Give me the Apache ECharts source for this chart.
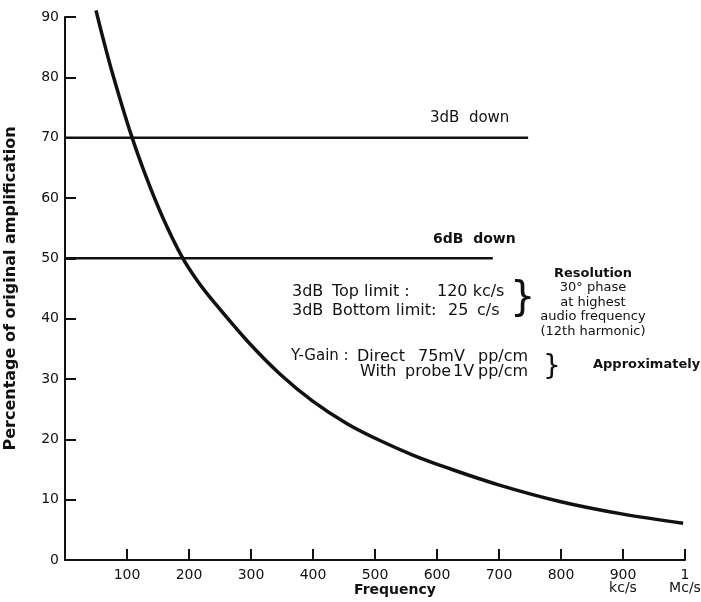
<!DOCTYPE html>
<html>
<head>
<meta charset="utf-8">
<script src="https://cdn.jsdelivr.net/npm/echarts@6/dist/echarts.min.js"></script>
<style>
  html, body { margin: 0; padding: 0; background: #fff; }
  #chart { width: 701px; height: 602px; }
</style>
</head>
<body>
<div id="chart"></div>
<script>
// response curve (kc/s vs % of original amplification)
var freq = [50, 61, 77, 105, 132, 158, 189, 214, 239, 294, 347, 400, 455, 508, 561, 616, 698, 798, 900, 997]
var percent = [91.1, 86.6, 80.5, 71.0, 63.2, 56.7, 50.2, 46.2, 42.9, 36.3, 30.8, 26.3, 22.6, 19.8, 17.4, 15.3, 12.5, 9.7, 7.6, 6.1]

// reference levels
var line3dB = [[0, 70], [747, 70]]
var line6dB = [[0, 50], [690, 50]]

var xTicks = ['100', '200', '300', '400', '500', '600', '700', '800', '900\nkc/s', '1\nMc/s']

var font = 'DejaVu Sans'
var chart = echarts.init(document.getElementById('chart'))

function pair (xs, ys) {
  return xs.map(function (x, i) { return [x, ys[i]] })
}

function txt (left, top, text, size, bold, extra) {
  var style = { text: text, fill: '#111', font: (bold ? 'bold ' : '') + size + 'px ' + font }
  if (extra) Object.assign(style, extra)
  return { type: 'text', x: left, y: top, style: style }
}

chart.setOption({
  animation: false,
  backgroundColor: '#fff',
  grid: { left: 65, right: 16, top: 17, bottom: 42, outerBoundsMode: 'none' },
  xAxis: {
    type: 'value',
    min: 0,
    max: 1000,
    interval: 100,
    name: 'Frequency',
    nameLocation: 'middle',
    nameGap: 23,
    nameMoveOverlap: false,
    nameTextStyle: { color: '#111', fontFamily: font, fontSize: 14, fontWeight: 'bold', padding: [0, 0, 0, 40] },
    axisLine: { lineStyle: { color: '#111', width: 2 } },
    axisTick: { inside: true, length: 11, lineStyle: { color: '#111', width: 2 } },
    axisLabel: {
      color: '#111',
      fontFamily: font,
      fontSize: 14,
      margin: 9,
      lineHeight: 13,
      formatter: function (v) {
        if (v === 0) return ''
        return xTicks[v / 100 - 1]
      }
    },
    splitLine: { show: false }
  },
  yAxis: {
    type: 'value',
    min: 0,
    max: 90,
    interval: 10,
    name: 'Percentage of original amplification',
    nameLocation: 'middle',
    nameGap: 46,
    nameTextStyle: { color: '#111', fontFamily: font, fontSize: 16, fontWeight: 'bold' },
    axisLine: { lineStyle: { color: '#111', width: 2 } },
    axisTick: { inside: true, length: 11, lineStyle: { color: '#111', width: 2 } },
    axisLabel: { color: '#111', fontFamily: font, fontSize: 14, margin: 6 },
    splitLine: { show: false }
  },
  series: [
    {
      type: 'line',
      data: pair(freq, percent),
      smooth: 0.35,
      clip: false,
      showSymbol: false,
      lineStyle: { color: '#111', width: 3.5 }
    },
    {
      type: 'line',
      data: line3dB,
      showSymbol: false,
      lineStyle: { color: '#111', width: 2.5 }
    },
    {
      type: 'line',
      data: line6dB,
      showSymbol: false,
      lineStyle: { color: '#111', width: 2.5 }
    }
  ],
  graphic: [
    txt(430, 111, '3dB  down', 15, false),
    txt(433, 232, '6dB  down', 14, true),
    // limits
    txt(292, 284, '3dB', 16, false),
    txt(292, 303, '3dB', 16, false),
    txt(332, 284, 'Top limit :', 16, false),
    txt(437, 284, '120 kc/s', 16, false),
    txt(332, 303, 'Bottom limit:', 16, false),
    txt(448, 303, '25', 16, false),
    txt(477, 303, 'c/s', 16, false),
    txt(510, 280, '}', 40, false),
    // resolution
    txt(593, 266, '{b|Resolution}\n30° phase\nat highest\naudio frequency\n(12th harmonic)', 13, false, {
      align: 'center',
      lineHeight: 14.5,
      rich: { b: { fontWeight: 'bold', fontSize: 13, fontFamily: font, lineHeight: 14.5 } }
    }),
    // y gain
    txt(291, 349, 'Y-Gain :', 15, false),
    txt(357, 349, 'Direct', 16, false),
    txt(418, 349, '75mV', 16, false),
    txt(478, 349, 'pp/cm', 16, false),
    txt(360, 364, 'With', 16, false),
    txt(405, 364, 'probe', 16, false),
    txt(453, 364, '1V', 16, false),
    txt(478, 364, 'pp/cm', 16, false),
    txt(543, 354, '}', 28, false),
    txt(593, 358, 'Approximately', 13, true)
  ]
})
</script>
</body>
</html>
